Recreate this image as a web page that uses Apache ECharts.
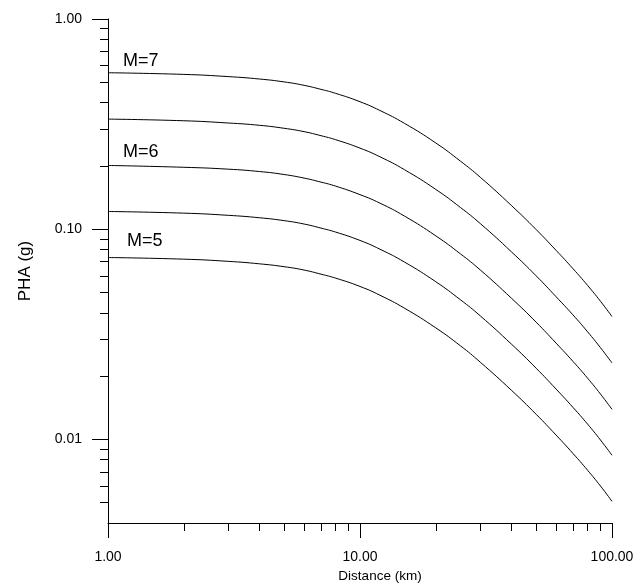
<!DOCTYPE html>
<html>
<head>
<meta charset="utf-8">
<script src="https://cdn.jsdelivr.net/npm/echarts@6/dist/echarts.min.js"></script>
<style>
html,body{margin:0;padding:0;background:#fff;}
#chart{width:639px;height:588px;}
</style>
</head>
<body>
<div id="chart"></div>
<script>
// Distance (km)
const distance = [1, 2, 3, 4, 5, 6, 7, 8, 10, 12, 15, 20, 25, 30, 40, 50, 60, 70, 80, 90, 100];
// PHA (g) curves, top to bottom
const pha_M7   = [0.555, 0.545, 0.532, 0.518, 0.502, 0.4835, 0.4627, 0.4429, 0.404, 0.367, 0.319, 0.257, 0.2110, 0.1767, 0.1292, 0.0996, 0.0793, 0.0649, 0.0540, 0.0454, 0.0384];
const pha_M6_5 = [0.334, 0.328, 0.320, 0.312, 0.302, 0.2911, 0.2785, 0.2666, 0.243, 0.221, 0.192, 0.1545, 0.1270, 0.1064, 0.0778, 0.0600, 0.0477, 0.0391, 0.0325, 0.0273, 0.0231];
const pha_M6   = [0.201, 0.197, 0.193, 0.188, 0.182, 0.1750, 0.1675, 0.1603, 0.146, 0.133, 0.1155, 0.0929, 0.0764, 0.0640, 0.0468, 0.0361, 0.0287, 0.0235, 0.01955, 0.01643, 0.0139];
const pha_M5_5 = [0.1214, 0.1192, 0.1164, 0.1133, 0.1098, 0.1058, 0.1012, 0.0969, 0.0884, 0.0803, 0.0698, 0.0562, 0.0462, 0.0387, 0.0283, 0.0218, 0.01735, 0.0142, 0.01182, 0.00993, 0.0084];
const pha_M5   = [0.0733, 0.0720, 0.0703, 0.0684, 0.0663, 0.0639, 0.0611, 0.0585, 0.0534, 0.0485, 0.0421, 0.0339, 0.0279, 0.0233, 0.01707, 0.01316, 0.01048, 0.00857, 0.00713, 0.00600, 0.00507];

const seriesNames = ['M=7', 'M=6.5', 'M=6', 'M=5.5', 'M=5'];
const seriesValues = [pha_M7, pha_M6_5, pha_M6, pha_M5_5, pha_M5];

// tick values
const xMajorTicks = [1, 10, 100];
const xMinorTicks = [2, 3, 4, 5, 6, 7, 8, 9, 20, 30, 40, 50, 60, 70, 80, 90];
const yMajorTicks = [0.01, 0.1, 1];
const yMinorTicks = [0.005, 0.006, 0.007, 0.008, 0.009, 0.02, 0.03, 0.04, 0.05, 0.06, 0.07, 0.08, 0.09, 0.2, 0.3, 0.4, 0.5, 0.6, 0.7, 0.8, 0.9];

// curve labels
const curveLabels = ['M=7', 'M=6', 'M=5'];

const FONT = '"Liberation Sans", Arial, Helvetica, sans-serif';
const chart = echarts.init(document.getElementById('chart'), null, {renderer: 'canvas'});

const xMin = 1, xMax = 100, yMin = 0.004, yMax = 1;

const option = {
  animation: false,
  backgroundColor: '#fff',
  grid: {left: 108, right: 27, top: 19, bottom: 65, containLabel: false, outerBoundsMode: 'none'},
  xAxis: [
    {
      type: 'log', logBase: 10, min: xMin, max: xMax, position: 'bottom',
      axisLine: {show: true, onZero: false, lineStyle: {color: '#000', width: 1}},
      axisTick: {show: true, inside: false, length: 15, customValues: xMajorTicks, lineStyle: {color: '#000', width: 1}},
      axisLabel: {show: true, customValues: xMajorTicks, margin: 27, color: '#000', fontSize: 14, fontFamily: FONT,
        formatter: v => Number(v).toFixed(2)},
      splitLine: {show: false}, minorTick: {show: false},
      name: 'Distance (km)', nameLocation: 'middle', nameGap: 41,
      nameTextStyle: {color: '#000', fontSize: 13.5, fontFamily: FONT, padding: [0, 0, 0, 40]}
    },
    {
      type: 'log', logBase: 10, min: xMin, max: xMax, position: 'bottom',
      axisLine: {show: false, onZero: false},
      axisTick: {show: true, inside: false, length: 8, customValues: xMinorTicks, lineStyle: {color: '#000', width: 1}},
      axisLabel: {show: false}, splitLine: {show: false}
    }
  ],
  yAxis: [
    {
      type: 'log', logBase: 10, min: yMin, max: yMax, position: 'left',
      axisLine: {show: true, onZero: false, lineStyle: {color: '#000', width: 1}},
      axisTick: {show: true, inside: false, length: 16, customValues: yMajorTicks, lineStyle: {color: '#000', width: 1}},
      axisLabel: {show: true, customValues: yMajorTicks, margin: 26, color: '#000', fontSize: 14, fontFamily: FONT,
        formatter: v => Number(v).toFixed(2)},
      splitLine: {show: false}, minorTick: {show: false},
      name: 'PHA (g)', nameLocation: 'middle', nameGap: 74,
      nameTextStyle: {color: '#000', fontSize: 17, fontFamily: FONT}
    },
    {
      type: 'log', logBase: 10, min: yMin, max: yMax, position: 'left',
      axisLine: {show: false, onZero: false},
      axisTick: {show: true, inside: false, length: 8, customValues: yMinorTicks, lineStyle: {color: '#000', width: 1}},
      axisLabel: {show: false}, splitLine: {show: false}
    }
  ],
  series: seriesValues.map((vals, i) => ({
    name: seriesNames[i],
    type: 'line',
    xAxisIndex: 0, yAxisIndex: 0,
    data: distance.map((d, j) => [d, vals[j]]),
    smooth: 0.5,
    showSymbol: false,
    symbol: 'none',
    lineStyle: {color: '#000', width: 1},
    silent: true
  })),
  graphic: [
    {type: 'text', x: 123, y: 61, style: {text: curveLabels[0], fill: '#000', fontSize: 18, fontFamily: FONT, verticalAlign: 'middle', align: 'left'}},
    {type: 'text', x: 123, y: 152, style: {text: curveLabels[1], fill: '#000', fontSize: 18, fontFamily: FONT, verticalAlign: 'middle', align: 'left'}},
    {type: 'text', x: 127, y: 241, style: {text: curveLabels[2], fill: '#000', fontSize: 18, fontFamily: FONT, verticalAlign: 'middle', align: 'left'}}
  ]
};
chart.setOption(option);
</script>
</body>
</html>
